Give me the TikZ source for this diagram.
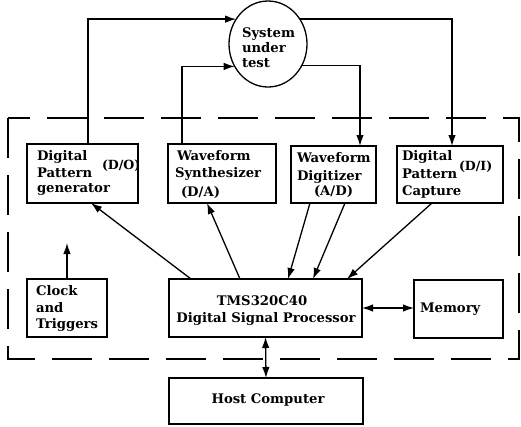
\documentclass[tikz,border=0pt]{standalone}
\usepackage{fontspec}
\setmainfont{DejaVu Serif}
\usetikzlibrary{arrows.meta,shapes.geometric}
\begin{document}
\begin{tikzpicture}[x=1pt,y=-1pt,
  every node/.style={inner sep=0pt,outer sep=0pt},
  box/.style={draw,line width=1.3pt,rectangle,anchor=north west},
  lbl/.style={anchor=base west,font=\fontsize{13.2}{15}\selectfont\bfseries},
  lblc/.style={anchor=base,font=\fontsize{13.2}{15}\selectfont\bfseries},
  sup/.style={anchor=base west,font=\fontsize{12.6}{14}\selectfont\bfseries},
  arr/.style={line width=1.3pt,-{Latex[length=11pt,width=7.5pt]}},
  darr/.style={line width=1.3pt,{Latex[length=11pt,width=7.5pt]}-{Latex[length=11pt,width=7.5pt]}}]
\useasboundingbox (0,0) rectangle (521,426);
% dashed enclosure
\draw[line width=1.3pt,dash pattern=on 40pt off 17pt] (8,118) rectangle (519,359);
% system under test
\node[draw,ellipse,line width=1.3pt,minimum width=78,minimum height=86] (sut) at (268,44) {};
\node[lbl] (t1) at (242,37) {System};
\node[lbl] (t2) at (242,52) {under};
\node[lbl] (t3) at (242,67) {test};
% boxes
\node[box,minimum width=111,minimum height=59] (dpg) at (27,144) {};
\node[box,minimum width=108,minimum height=59] (wsyn) at (168,144) {};
\node[box,minimum width=85,minimum height=57] (wdig) at (291,146) {};
\node[box,minimum width=106,minimum height=57] (dpc) at (397,146) {};
\node[box,minimum width=80,minimum height=58] (clk) at (27,279) {};
\node[box,minimum width=193,minimum height=58] (dsp) at (169,279) {};
\node[box,minimum width=89,minimum height=58] (mem) at (414,280) {};
\node[box,minimum width=194,minimum height=46] (host) at (169,378) {};
% texts
\node[lbl] (a1) at (37,160) {Digital};
\node[lbl] (a2) at (37,177) {Pattern};
\node[lbl] (a3) at (37,192) {generator};
\node[sup] (a4) at (102,169) {(D/O)};
\node[lbl] (b1) at (177,160) {Waveform};
\node[lbl] (b2) at (175,177) {Synthesizer};
\node[lbl] (b3) at (181,196) {(D/A)};
\node[lbl] (c1) at (297,162) {Waveform};
\node[lbl] (c2) at (297,180) {Digitizer};
\node[lbl] (c3) at (314,195) {(A/D)};
\node[lbl] (d1) at (402,160) {Digital};
\node[lbl] (d2) at (402,178) {Pattern};
\node[sup] (d4) at (459,170) {(D/I)};
\node[lbl] (d3) at (402,195) {Capture};
\node[lbl] (e1) at (36,295) {Clock};
\node[lbl] (e2) at (36,312) {and};
\node[lbl] (e3) at (36,328) {Triggers};
\node[lblc] (f1) at (262,305) {TMS320C40};
\node[lblc] (f2) at (266,322) {Digital Signal Processor};
\node[lbl] (g1) at (420,312) {Memory};
\node[lblc] (h1) at (268,403) {Host Computer};
% connectors to/from system under test
\draw[arr] ([xshift=5.5pt]dpg.north) |- (sut.142);
\draw[arr] ([xshift=-40pt]wsyn.north) |- (sut.214);
\draw[arr] (sut.38) -| ([xshift=2pt]dpc.north);
\draw[arr] (sut.327) -| ([xshift=26.5pt]wdig.north);
% DSP connections
\draw[arr] ([xshift=-74.5pt]dsp.north) -- ([xshift=8.5pt]dpg.south);
\draw[arr] ([xshift=-25.5pt]dsp.north) -- ([xshift=-15pt]wsyn.south);
\draw[arr] ([xshift=-23.5pt]wdig.south) -- ([xshift=22.5pt]dsp.north);
\draw[arr] ([xshift=11.5pt]wdig.south) -- ([xshift=47.5pt]dsp.north);
\draw[arr] ([xshift=-18pt]dpc.south) -- ([xshift=81.5pt]dsp.north);
\coordinate (clkup) at (67,243);
\draw[arr] (clk.north) -- (clkup);
\draw[darr] (dsp.east) -- (mem.west |- dsp.east);
\draw[darr] (dsp.south) -- (host.north);
\end{tikzpicture}
\end{document}
